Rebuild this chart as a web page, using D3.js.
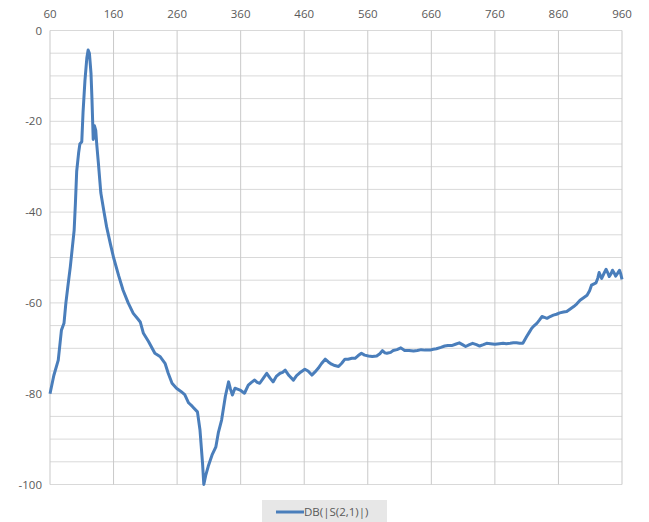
<!DOCTYPE html>
<html>
  <head>
    <meta charset="utf-8">
    <script src="https://d3js.org/d3.v7.min.js"></script>
    <title>DB(|S(2,1)|)</title>
    <style type="text/css">
body {
  margin: 0;
  background-color: #fff;
}
svg text {
  font-family: 'Open Sans', sans-serif;
  font-size: 11.5px;
  fill: #595959;
}
.grid line {
  stroke: #d9d9d9;
  stroke-width: 1px;
}
.grid line.vert {
  stroke: #c9c9c9;
}
path.trace {
  fill: none;
  stroke: #4a7ebb;
  stroke-width: 3px;
  stroke-linejoin: round;
}
    </style>
  </head>
  <body>
<svg></svg>
<script type="text/javascript">
// frequency (x) and dB value (y)
const freq = [60, 66, 73, 78, 82, 85, 88, 92, 95, 98, 100, 102, 105, 107, 110, 112, 115, 118, 120, 122,
  124.5, 126, 128, 130, 132, 133.5, 136, 140, 145, 149, 155, 160, 168, 175, 183, 191, 198, 202, 207, 215,
  225, 233, 241, 246, 252, 259, 266, 272, 278, 284, 292, 296, 300, 302, 305, 309, 315, 321, 325, 330,
  336, 341, 344, 347, 351, 355, 359, 366, 372, 377, 382, 386, 390, 396, 401, 406, 411, 416, 422, 426,
  430, 436, 443, 448, 453, 457, 461, 466, 472, 477, 482, 487, 493, 498, 503, 508, 514, 519, 524, 529,
  535, 540, 545, 550, 555, 561, 567, 574, 579, 583, 587, 590, 596, 600, 606, 612, 618, 625, 632, 638,
  644, 650, 658, 663, 668, 675, 681, 686, 692, 698, 704, 709, 714, 720, 725, 731, 736, 742, 747, 753,
  760, 767, 773, 778, 784, 789, 794, 799, 804, 810, 814, 818, 822, 826, 830, 834, 838, 842, 847, 852,
  857, 862, 868, 873, 878, 884, 889, 894, 899, 905, 909, 912, 916, 919, 922, 924, 926, 928, 931, 935,
  938, 940, 943, 945, 948, 950, 953, 956, 958, 960];
const s21 = [-80, -76, -72.6, -66, -64.5, -60, -56.5, -52, -48, -44, -38, -31, -27, -25, -24.5, -18, -11, -6, -4.3, -5,
  -9.4, -15, -24, -21, -22, -25, -29, -35.8, -40, -43.2, -47, -50, -54, -57.2, -60, -62.3, -63.5, -64.2, -66.7, -68.5,
  -71.1, -71.8, -73.3, -75.5, -77.7, -78.8, -79.5, -80.2, -82, -82.8, -84, -88, -95.3, -100, -98, -96, -93.5, -91.7, -88.5, -85.8,
  -80.5, -77.4, -79, -80.3, -78.8, -79, -79.2, -79.9, -78.1, -77.5, -77, -77.5, -77.7, -76.5, -75.5, -76.5, -77.4, -76.2, -75.5, -75.3,
  -74.8, -76, -77, -76, -75.4, -75, -74.6, -75, -75.9, -75.2, -74.4, -73.4, -72.4, -73, -73.5, -73.8, -74, -73.3, -72.4, -72.4,
  -72.2, -72.2, -71.6, -71.1, -71.5, -71.7, -71.8, -71.7, -71.2, -70.5, -71, -71.1, -70.9, -70.5, -70.3, -69.9, -70.5, -70.5, -70.6, -70.5,
  -70.3, -70.4, -70.4, -70.2, -70.1, -69.8, -69.5, -69.4, -69.4, -69.1, -68.8, -69.2, -69.6, -69.2, -68.9, -69.2, -69.5, -69.2, -68.9, -69,
  -69.1, -69, -68.9, -69, -68.9, -68.8, -68.8, -68.9, -68.9, -67.4, -66.5, -65.6, -65, -64.5, -63.8, -63, -63.2, -63.4, -63, -62.7,
  -62.5, -62.2, -62, -61.9, -61.4, -60.8, -60.2, -59.4, -58.9, -58.3, -57.3, -56.1, -55.8, -55.6, -54.5, -53.3, -54, -54.6, -53.7, -52.6,
  -53.5, -54.2, -53.5, -52.8, -53.5, -54.1, -53.5, -52.8, -53.6, -54.8];

const xTicks = [60, 160, 260, 360, 460, 560, 660, 760, 860, 960];
const yTicks = [0, -20, -40, -60, -80, -100];
const yMinor = d3.range(0, -101, -5);
const seriesName = "DB(|S(2,1)|)";

const width = 649, height = 522;
const margin = {top: 30.5, right: 27, bottom: 37.5, left: 50};

const svg = d3.select("svg")
    .attr("width", width)
    .attr("height", height);

const x = d3.scaleLinear().domain([60, 960]).range([margin.left, width - margin.right]);
const y = d3.scaleLinear().domain([0, -100]).range([margin.top, height - margin.bottom]);

const grid = svg.append("g").attr("class", "grid");

grid.selectAll("line.horiz")
  .data(yMinor)
  .enter().append("line")
    .attr("class", "horiz")
    .attr("x1", x(60)).attr("x2", x(960))
    .attr("y1", d => y(d)).attr("y2", d => y(d));

grid.selectAll("line.vert")
  .data(xTicks)
  .enter().append("line")
    .attr("class", "vert")
    .attr("x1", d => x(d)).attr("x2", d => x(d))
    .attr("y1", y(0)).attr("y2", y(-100));

// tick labels, axis at top
svg.append("g")
  .selectAll("text")
  .data(xTicks)
  .enter().append("text")
    .attr("x", d => x(d))
    .attr("y", 18)
    .attr("text-anchor", "middle")
    .text(d => d);

svg.append("g")
  .selectAll("text")
  .data(yTicks)
  .enter().append("text")
    .attr("x", margin.left - 8)
    .attr("y", d => y(d))
    .attr("dy", "0.35em")
    .attr("text-anchor", "end")
    .text(d => d);

const line = d3.line()
    .x((d, i) => x(freq[i]))
    .y(d => y(d));

svg.append("path")
    .attr("class", "trace")
    .attr("d", line(s21));

// legend
const legend = svg.append("g").attr("transform", "translate(262,500)");
legend.append("rect")
    .attr("width", 125)
    .attr("height", 24)
    .attr("fill", "#e7e7e7");
legend.append("line")
    .attr("x1", 14).attr("x2", 42)
    .attr("y1", 12).attr("y2", 12)
    .attr("stroke", "#4a7ebb")
    .attr("stroke-width", 3);
legend.append("text")
    .attr("x", 42)
    .attr("y", 12)
    .attr("dy", "0.35em")
    .text(seriesName);
</script>
  </body>
</html>
